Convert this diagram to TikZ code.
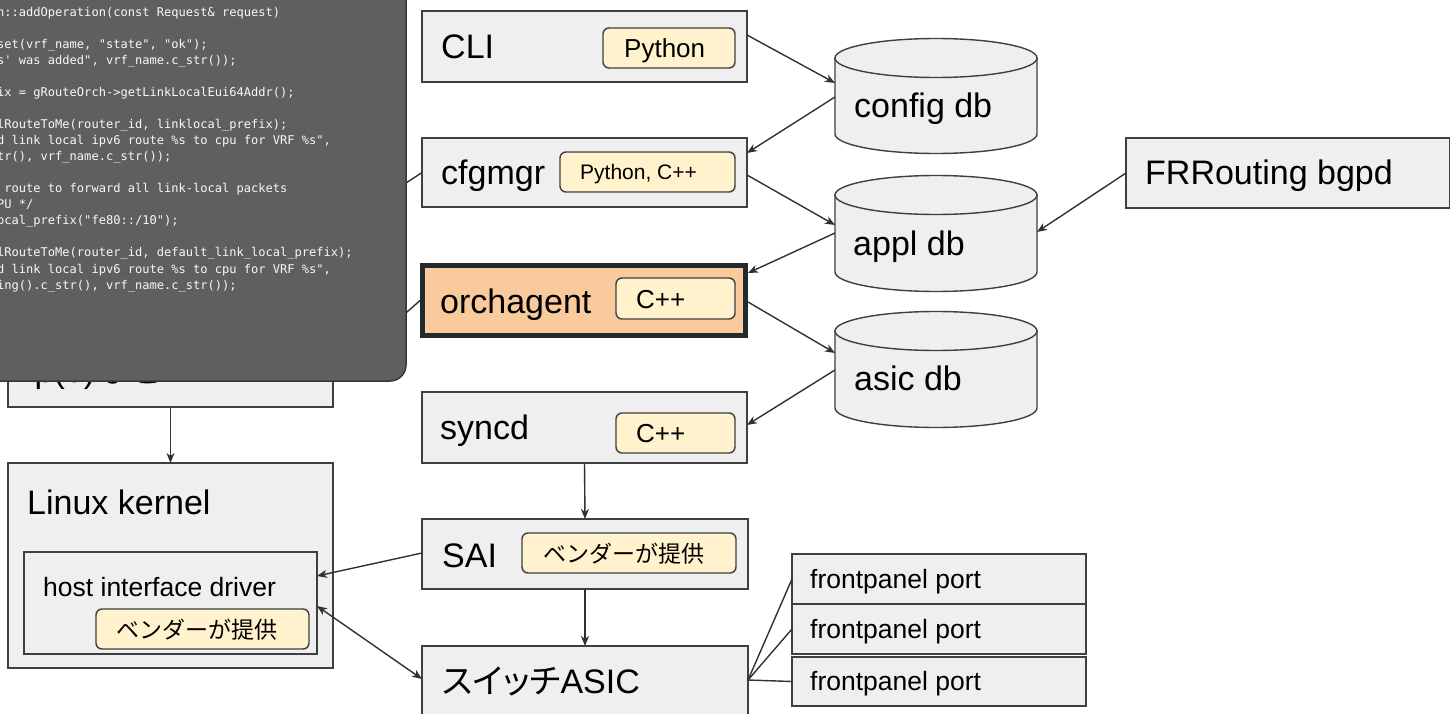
\documentclass[tikz,border=0pt]{standalone}
\usepackage{fontspec}
\setmainfont{Liberation Sans}
\setmonofont{DejaVu Sans Mono}
\newfontfamily\jpfont{Noto Sans CJK JP}
\newfontfamily\jpprop{Noto Sans CJK JP}[RawFeature=+palt]
\usetikzlibrary{arrows.meta,calc}

\definecolor{boxfill}{HTML}{EFEFEF}
\definecolor{boxline}{HTML}{3C4043}
\definecolor{badgefill}{HTML}{FFF2CC}
\definecolor{orchfill}{HTML}{F9CB9C}
\definecolor{orchline}{HTML}{252A2F}
\definecolor{wire}{HTML}{2E3236}
\definecolor{panelfill}{HTML}{5F5F5F}
\definecolor{panelline}{HTML}{35393D}
\definecolor{codetext}{HTML}{F8F8F8}

\tikzset{
  box/.style={draw=boxline, fill=boxfill, line width=1.4pt, inner sep=0pt, outer sep=0pt},
  hot/.style={draw=orchline, fill=orchfill, line width=5pt, inner sep=0pt, outer sep=2.5pt},
  badge/.style={draw=boxline, fill=badgefill, line width=1.4pt, rounded corners=6pt, inner sep=0pt, outer sep=0pt},
  dbarea/.style={inner sep=0pt, outer sep=0pt},
  dbshape/.style={draw=boxline, fill=boxfill, line width=1.4pt},
  lbl/.style={anchor=base west, inner sep=0pt, font=\fontsize{34}{40}\selectfont},
  tag/.style={anchor=base west, inner sep=0pt, font=\fontsize{26}{30}\selectfont},
  tagsmall/.style={anchor=base west, inner sep=0pt, font=\fontsize{21}{25}\selectfont},
  jptag/.style={anchor=base west, inner sep=0pt, font=\jpfont\fontsize{23}{27}\selectfont},
  codeline/.style={anchor=base west, inner sep=0pt, text=codetext, font=\ttfamily\fontsize{12.05}{16}\selectfont},
  link/.style={draw=wire, line width=1.4pt},
  flow/.style={link, -{Stealth[length=10pt,width=8pt,inset=3pt]}},
  bothway/.style={link, {Stealth[length=10pt,width=8pt,inset=3pt]}-{Stealth[length=10pt,width=8pt,inset=3pt]}},
}

\begin{document}
\begin{tikzpicture}[x=1pt,y=-1pt]
\useasboundingbox (0,0) rectangle (1451,714);
\clip (0,0) rectangle (1451,714);

% left column: tools and kernel
\node[box, minimum width=325pt, minimum height=90pt] (ip) at (170.5,362) {};
\node[lbl] (ipT) at (27,382) {ip(8){\jpfont など}};
\node[box, minimum width=325pt, minimum height=205pt] (linux) at (170.5,565.5) {};
\node[lbl] (linuxT) at (27,514) {Linux kernel};
\node[box, minimum width=293pt, minimum height=102pt] (drv) at (170.5,603) {};
\node[tag, font=\fontsize{26.5}{30}\selectfont] (drvT) at (43,596) {host interface driver};
\node[badge, minimum width=213pt, minimum height=40pt] (drvB) at (202.5,629) {};
\node[jptag] (drvBT) at (116,638) {ベンダーが提供};

% middle column: SONiC processes
\node[box, minimum width=325pt, minimum height=71pt] (cli) at (584.5,46.5) {};
\node[lbl] (cliT) at (441,59) {CLI};
\node[badge, minimum width=132pt, minimum height=40pt] (cliB) at (669,48) {};
\node[tag] (cliBT) at (624,58) {Python};

\node[box, minimum width=325pt, minimum height=69pt] (cfgmgr) at (584.5,172.5) {};
\node[lbl] (cfgmgrT) at (441,185) {cfgmgr};
\node[badge, minimum width=175pt, minimum height=40pt] (cfgmgrB) at (647.5,172) {};
\node[tagsmall] (cfgmgrBT) at (580,179.5) {Python, C++};

\node[hot, minimum width=323pt, minimum height=70pt] (orch) at (584,300.5) {};
\node[lbl] (orchT) at (440,313) {orchagent};
\node[badge, minimum width=119pt, minimum height=41pt] (orchB) at (675.5,298.5) {};
\node[tag] (orchBT) at (636,308) {C++};

\node[box, minimum width=325pt, minimum height=71pt] (syncd) at (584.5,427.5) {};
\node[lbl] (syncdT) at (440,439) {syncd};
\node[badge, minimum width=119pt, minimum height=40pt] (syncdB) at (675.5,433) {};
\node[tag] (syncdBT) at (636,442) {C++};

\node[box, minimum width=326pt, minimum height=70pt] (sai) at (585,554) {};
\node[lbl] (saiT) at (442,567) {SAI};
\node[badge, minimum width=214pt, minimum height=40pt] (saiB) at (629,553) {};
\node[jptag] (saiBT) at (543,562) {ベンダーが提供};

\node[box, minimum width=326pt, minimum height=72pt] (chip) at (585,682) {};
\node[lbl] (chipT) at (442,693) {{\jpprop スイッチ}ASIC};

% front panel ports
\node[box, minimum width=294pt, minimum height=50pt] (fp1) at (939,579) {};
\node[tag, font=\fontsize{26.5}{30}\selectfont] (fp1T) at (810,588.5) {frontpanel port};
\node[box, minimum width=294pt, minimum height=50pt] (fp2) at (939,629) {};
\node[tag, font=\fontsize{26.5}{30}\selectfont] (fp2T) at (810,638.5) {frontpanel port};
\node[box, minimum width=294pt, minimum height=49pt] (fp3) at (939,681.5) {};
\node[tag, font=\fontsize{26.5}{30}\selectfont] (fp3T) at (810,690.5) {frontpanel port};

% databases
\node[dbarea, minimum width=202pt, minimum height=115pt] (cfg) at (936,96) {};
\node[dbarea, minimum width=202pt, minimum height=115pt] (appl) at (936,233.5) {};
\node[dbarea, minimum width=202pt, minimum height=115pt] (asic) at (936,369.5) {};
\foreach \yt/\yb in {58/134, 195/272, 331/408} {
  \path[dbshape] (835,\yt) -- (835,\yb) arc[start angle=180, end angle=0, x radius=101, y radius=19.5] -- (1037,\yt) -- cycle;
  \path[dbshape] (936,\yt) ellipse[x radius=101, y radius=19.5];
}
\node[lbl] (cfgT) at (854,118) {config db};
\node[lbl] (applT) at (853,255) {appl db};
\node[lbl] (asicT) at (854,390) {asic db};

% routing daemon
\node[box, minimum width=323.5pt, minimum height=70pt] (frr) at (1287.75,173) {};
\node[lbl] (frrT) at (1145,185) {FRRouting bgpd};

% connectors
\draw[flow] ($(cli.north east)+(0,24)$) -- ($(cfg.north west)+(0,44.5)$);
\draw[flow] ($(cfg.north west)+(0,58.5)$) -- ($(cfgmgr.north east)+(0,15)$);
\draw[flow] ($(cfgmgr.north east)+(0,37)$) -- ($(appl.north west)+(0,49)$);
\draw[flow] ($(appl.north west)+(0,57)$) -- ($(orch.north east)+(0,10)$);
\draw[flow] ($(orch.east)+(0,1.5)$) -- ($(asic.north west)+(0,41)$);
\draw[flow] ($(asic.north west)+(0,58)$) -- ($(syncd.north east)+(0,33)$);
\draw[flow] (frr.west) -- ($(appl.north east)+(0,56)$);
\draw[flow] (syncd.south) -- (sai.north);
\draw[flow] (sai.south) -- (chip.north);
\draw[flow] ($(sai.west)+(0,-1)$) -- ($(drv.north east)+(0,24)$);
\draw[bothway] ($(drv.north east)+(0,54)$) -- ($(chip.north west)+(0,33)$);
\draw[flow] (ip.south) -- (linux.north);
\draw[link] ($(chip.east)+(0,-2)$) -- (fp1.west);
\draw[link] ($(chip.east)+(0,-2)$) -- (fp2.west);
\draw[link] ($(chip.east)+(0,-2)$) -- (fp3.west);
\coordinate (h1) at (390,193.5);
\coordinate (h2) at (390,327);
\draw[link] (h1) -- (cfgmgr.west);
\draw[link] (h2) -- (orch.west);

% source code overlay
\node[draw=panelline, fill=panelfill, line width=1.5pt, rounded corners=16pt, inner sep=0pt,
      minimum width=436pt, minimum height=411pt] (panel) at (188,175.5) {};
\foreach \ln [count=\i from 0] in {
  {n::addOperation(const Request\& request)},
  {},
  {set(vrf\_name, "state", "ok");},
  {s' was added", vrf\_name.c\_str());},
  {},
  {ix = gRouteOrch->getLinkLocalEui64Addr();},
  {},
  {lRouteToMe(router\_id, linklocal\_prefix);},
  {d link local ipv6 route \%s to cpu for VRF \%s",},
  {tr(), vrf\_name.c\_str());},
  {},
  {\ route to forward all link-local packets},
  {PU */},
  {ocal\_prefix("fe80::/10");},
  {},
  {lRouteToMe(router\_id, default\_link\_local\_prefix);},
  {d link local ipv6 route \%s to cpu for VRF \%s",},
  {ing().c\_str(), vrf\_name.c\_str());}
} {
  \node[codeline] (code\i) at (-3,{17+16*\i}) {\ln};
}
\end{tikzpicture}
\end{document}
